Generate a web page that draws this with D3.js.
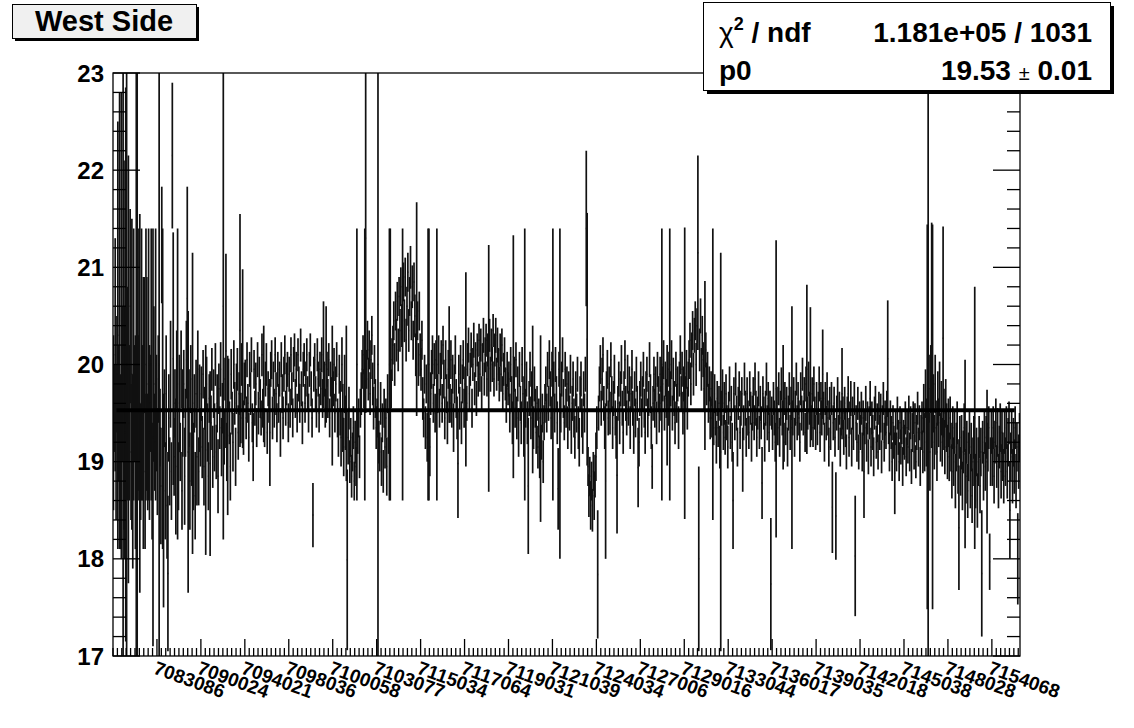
<!DOCTYPE html>
<html><head><meta charset="utf-8">
<script src="https://cdn.jsdelivr.net/npm/d3@7"></script>
<style>body{margin:0;background:#fff}svg{display:block}</style>
</head><body><svg id="c" width="1134" height="728"></svg>
<script>
// bin contents (one per run-number bin)
const binCenters = [
19.40,19.55,20.10,19.20,19.90,20.30,19.50,20.45,19.00,20.40,
19.80,20.00,20.20,19.30,20.00,20.00,19.70,19.95,19.40,20.60,
19.10,19.90,18.90,20.00,19.60,19.20,20.00,20.00,19.50,20.00,
19.60,19.00,20.00,19.40,19.50,20.20,18.90,20.00,19.80,19.10,
20.00,19.30,19.60,20.00,18.80,19.25,19.80,19.20,20.00,19.50,
19.00,19.85,20.00,19.35,18.75,21.23,19.75,18.60,19.55,18.70,
19.70,18.55,17.85,19.45,18.90,19.90,18.80,22.15,20.06,19.05,
19.60,18.95,19.95,19.80,18.85,19.60,19.10,19.95,18.70,19.50,
19.80,18.85,19.40,20.05,20.68,19.10,19.55,18.80,19.85,19.15,
19.60,18.95,19.60,18.65,19.70,19.05,19.95,18.90,19.55,19.25,
19.70,19.15,19.90,18.95,19.55,19.12,19.80,19.30,18.85,19.65,
18.98,19.40,19.95,19.05,19.70,19.25,20.00,19.10,19.60,18.85,
19.75,19.35,19.95,19.15,19.55,20.60,19.25,19.85,20.14,19.10,
19.27,19.80,19.40,18.95,19.90,19.50,19.20,20.00,19.60,19.05,
19.75,19.95,19.30,19.70,20.35,19.45,20.00,20.06,19.35,19.80,
19.85,19.45,20.05,19.60,19.25,19.95,19.70,20.10,19.40,19.15,
19.95,19.55,19.80,19.35,20.05,19.50,19.90,19.65,19.45,20.10,
19.55,19.80,19.35,19.85,20.00,19.30,19.75,19.60,19.30,19.95,
20.05,19.45,19.85,19.55,20.10,19.70,19.40,19.95,19.60,19.85,
19.30,20.05,19.70,19.45,19.90,20.10,19.55,19.80,19.95,19.40,
19.90,19.55,20.10,19.75,19.45,20.00,20.15,19.65,19.95,19.50,
20.10,19.80,19.60,20.20,19.75,19.40,19.95,20.05,19.60,19.85,
20.10,19.70,19.50,19.95,20.15,19.75,19.45,18.45,19.90,20.05,
19.70,19.55,20.10,19.85,19.50,19.95,19.75,20.10,19.65,20.10,
19.85,19.55,20.00,19.95,19.65,20.05,19.45,19.85,19.70,19.68,
19.75,20.00,19.50,19.80,20.05,19.45,19.30,19.90,19.55,19.25,
20.00,19.45,19.15,19.80,19.40,19.60,17.99,19.25,19.55,19.00,
19.25,18.85,19.10,19.35,18.80,19.20,18.95,20.00,19.30,19.45,
19.05,19.55,19.70,19.95,20.10,19.75,20.00,21.30,19.95,20.25,
19.85,20.15,19.70,20.05,20.30,19.80,19.55,20.00,19.65,19.35,
19.45,20.00,19.20,19.10,19.60,19.00,19.40,18.90,19.55,19.15,
19.45,18.95,19.70,19.30,20.00,20.00,19.75,20.05,20.20,20.45,
20.00,20.55,20.25,20.65,20.15,20.70,20.35,20.80,20.40,20.00,
20.85,20.45,20.90,20.25,20.60,20.95,20.35,20.70,21.00,20.45,
20.80,20.25,20.85,20.50,20.10,20.57,20.45,20.00,20.55,20.10,
19.95,20.25,19.65,19.45,19.90,19.35,19.80,19.25,20.00,20.00,
19.15,19.70,19.95,20.10,19.60,20.00,19.50,20.05,20.00,19.70,
20.10,19.55,19.90,20.05,19.60,20.20,19.85,19.45,20.05,19.70,
19.40,19.95,20.00,19.60,20.05,19.55,19.90,19.35,19.80,20.10,
19.65,19.45,18.98,19.90,19.55,20.00,19.40,19.80,20.05,19.55,
19.80,19.95,19.60,20.05,20.20,19.70,19.95,20.15,19.55,20.00,
20.25,19.75,20.05,19.65,20.15,19.85,20.25,19.90,20.20,19.70,
20.05,20.30,19.85,20.10,20.25,19.85,20.15,19.96,20.30,19.90,
20.20,20.00,20.35,19.85,20.15,20.30,19.90,20.20,20.00,19.80,
20.15,19.90,20.20,19.70,19.95,20.10,19.80,19.60,19.95,19.75,
19.85,19.50,20.00,19.70,19.40,20.08,19.90,19.55,20.05,19.45,
19.80,19.30,19.95,19.60,19.40,20.00,19.70,19.30,20.00,19.55,
19.85,19.40,18.75,19.65,19.95,19.45,19.75,19.64,19.35,19.80,
19.55,19.30,19.60,19.15,19.45,19.05,19.34,19.20,19.50,19.00,
19.40,19.60,19.80,19.50,19.95,19.60,20.05,19.75,19.45,19.95,
20.00,19.85,19.50,20.00,19.70,19.40,18.72,19.95,19.70,19.50,
19.85,20.10,19.65,19.40,19.95,19.55,19.80,19.35,19.75,19.50,
19.90,19.30,19.60,19.85,19.45,19.25,19.75,19.50,19.90,19.35,
19.20,19.70,19.85,19.45,19.30,19.75,19.50,19.90,21.40,20.26,
18.95,18.65,18.85,18.55,18.80,18.50,18.90,18.65,18.85,19.05,
19.35,17.84,19.50,19.80,20.00,19.55,19.85,20.10,19.60,19.35,
18.80,19.75,19.95,19.45,19.80,19.50,20.05,19.70,19.35,19.65,
19.90,19.45,19.25,18.86,19.60,19.85,19.40,19.75,20.00,19.55,
19.30,19.75,20.05,19.60,19.45,19.90,19.55,19.80,19.35,19.70,
19.95,19.55,19.30,19.75,19.45,19.90,19.60,18.94,19.20,19.65,
19.85,19.45,19.70,19.95,19.55,19.30,19.75,19.90,19.45,19.65,
20.05,19.70,19.35,18.95,19.60,19.90,19.55,19.80,19.40,19.95,
19.70,19.50,19.90,19.60,20.00,19.80,20.05,19.50,19.85,19.65,
19.58,19.95,19.55,20.00,19.75,20.05,19.50,19.85,19.65,19.40,
19.95,19.60,19.80,19.35,19.85,20.10,19.70,19.95,19.50,19.80,
19.91,19.70,19.95,19.55,19.85,20.05,20.25,19.80,20.15,20.35,
19.90,20.30,20.45,20.00,20.40,21.15,18.00,20.15,20.50,19.95,
20.30,20.05,19.75,19.99,20.15,19.80,19.95,19.60,19.80,19.45,
19.75,19.45,19.90,19.35,19.70,19.45,19.20,19.65,19.35,19.60,
19.15,19.10,19.55,19.75,19.30,19.60,19.25,19.70,19.40,19.15,
19.55,19.80,19.30,19.60,19.20,18.60,19.70,19.40,19.85,19.50,
19.15,19.60,19.75,19.30,19.55,19.70,19.02,19.40,19.85,19.55,
19.25,19.70,19.45,19.30,19.75,19.55,19.20,19.50,19.70,19.40,
19.85,19.55,19.25,19.50,19.75,19.30,19.60,19.40,18.78,19.70,
19.50,19.20,19.55,19.85,19.40,19.65,19.30,19.55,17.74,19.50,
19.30,19.65,19.45,19.20,19.75,19.60,19.35,19.75,19.25,19.55,
19.80,19.45,19.56,19.20,19.65,19.35,19.60,19.15,19.50,19.75,
19.30,19.60,19.35,19.45,19.70,19.25,19.55,19.85,19.40,19.65,
19.45,19.20,19.75,19.50,19.90,19.45,19.70,19.30,19.80,19.95,
19.50,19.85,19.55,19.87,19.40,19.70,19.35,19.80,19.50,19.30,
19.65,19.35,19.55,19.80,19.30,19.65,19.45,19.90,19.55,19.20,
19.65,19.40,19.75,19.45,19.15,19.60,19.30,19.65,18.53,19.40,
19.60,19.25,18.44,19.50,19.70,19.30,19.55,19.15,19.45,19.70,
19.50,19.25,19.60,19.35,19.10,19.50,19.70,19.25,19.45,19.65,
19.15,19.50,19.30,19.65,18.03,19.40,19.20,19.60,19.10,19.45,
19.30,19.55,19.10,19.45,18.90,19.35,19.60,19.20,19.45,19.05,
19.40,19.65,19.15,19.45,19.30,19.05,19.50,19.60,19.20,19.40,
19.10,19.55,19.30,19.50,19.05,19.40,19.65,19.20,19.45,19.30,
19.55,20.06,19.35,19.10,19.45,19.30,19.00,19.40,19.20,18.88,
19.35,19.10,19.50,19.25,19.00,19.40,19.15,19.35,18.95,19.25,
19.20,19.45,19.05,19.35,19.15,19.50,19.10,19.40,18.95,19.30,
19.45,19.10,19.40,19.00,19.30,19.55,19.15,19.40,18.95,19.30,
19.45,19.10,19.55,19.20,19.70,19.30,19.46,20.00,19.75,19.10,
19.85,20.30,19.46,19.60,19.20,19.80,19.35,19.10,19.65,19.40,
19.75,19.25,19.55,19.20,20.27,19.50,19.15,19.60,19.35,19.10,
19.40,19.05,19.45,19.15,18.90,19.35,19.00,19.30,18.80,19.15,
19.40,18.95,18.32,19.25,18.90,19.20,18.75,19.10,19.35,19.08,
18.85,19.20,18.70,19.05,19.30,18.80,19.15,18.65,19.00,19.25,
19.45,18.80,19.10,18.60,19.00,19.25,18.75,19.10,17.85,19.20,
18.85,19.30,18.95,19.25,19.00,19.15,19.35,17.97,19.00,19.30,
19.00,19.35,18.85,19.20,19.40,18.95,19.30,18.80,19.15,19.35,
18.90,19.30,19.05,18.85,19.30,19.00,19.35,18.90,19.20,19.40,
18.50,19.05,19.30,18.85,19.20,18.95,19.35,18.80,19.15,18.00,
19.00,19.25
];
const binErrors = [
0.90,0.45,1.20,0.80,0.60,2.20,0.70,2.35,0.90,2.40,
0.80,3.60,1.90,1.30,2.85,3.60,1.10,2.20,0.80,1.00,
0.70,1.60,1.00,1.40,0.60,1.10,3.60,3.60,0.80,1.40,
1.95,0.60,1.40,0.80,1.40,0.70,0.80,1.40,1.10,0.60,
1.40,0.90,0.50,1.40,0.60,2.15,0.80,0.50,1.40,0.60,
0.55,0.45,3.60,0.40,0.60,0.60,1.65,1.10,0.40,0.50,
0.60,0.55,0.80,0.45,0.35,0.55,0.40,0.75,1.30,0.40,
0.35,0.70,0.40,1.60,0.35,0.50,0.30,0.40,0.40,0.45,
0.35,0.50,0.35,0.40,1.15,1.45,0.40,0.50,0.35,0.40,
1.55,0.45,0.30,0.45,0.35,0.50,0.40,0.35,0.45,0.30,
0.28,0.32,0.25,0.40,0.22,1.08,0.28,0.30,0.35,0.25,
0.95,0.28,0.22,0.32,0.25,0.35,0.22,0.28,0.30,0.38,
0.26,0.22,0.28,0.30,0.26,2.40,0.28,0.22,1.00,0.30,
0.82,0.26,0.22,0.35,0.26,0.22,0.30,0.25,0.22,0.30,
0.26,0.22,0.28,0.22,1.20,0.26,0.22,0.92,0.28,0.22,
0.20,0.22,0.18,0.20,0.25,0.18,0.22,0.18,0.20,0.35,
0.20,0.18,0.22,0.20,0.18,0.22,0.18,0.20,0.18,0.22,
0.20,0.60,0.20,0.18,0.22,0.22,0.18,0.20,0.55,0.18,
0.20,0.22,0.18,0.20,0.18,0.22,0.20,0.18,0.20,0.18,
0.25,0.18,0.20,0.22,0.18,0.20,0.18,0.22,0.18,0.20,
0.18,0.20,0.18,0.17,0.20,0.18,0.17,0.20,0.18,0.20,
0.17,0.18,0.20,0.17,0.18,0.22,0.18,0.17,0.20,0.18,
0.17,0.18,0.20,0.18,0.17,0.18,0.20,0.33,0.18,0.17,
0.18,0.20,0.17,0.18,0.20,0.18,0.17,0.18,0.20,0.55,
0.18,0.20,0.60,0.18,0.20,0.17,0.20,0.18,0.17,0.72,
0.18,0.17,0.20,0.18,0.18,0.20,0.25,0.20,0.28,0.30,
0.28,0.35,0.30,0.30,0.28,0.80,0.93,0.28,0.22,0.22,
0.20,0.22,0.20,0.22,0.20,0.22,0.20,1.40,0.22,0.20,
0.22,0.20,0.22,0.20,0.20,0.20,1.40,1.80,0.20,0.20,
0.22,0.20,0.22,0.20,0.20,0.22,0.22,0.20,0.20,0.22,
0.20,3.60,0.22,0.20,0.22,0.25,0.20,0.22,0.20,0.22,
0.20,0.30,0.20,0.22,1.40,1.40,0.20,0.22,0.20,0.20,
0.22,0.20,0.22,0.20,0.22,0.20,0.22,0.20,0.22,1.40,
0.20,0.22,0.20,0.22,0.20,0.20,0.22,0.20,0.22,0.20,
0.22,0.20,0.20,0.22,0.22,1.10,0.20,0.22,0.20,0.22,
0.22,0.20,0.22,0.20,0.20,0.22,0.20,0.25,1.40,1.40,
0.30,0.22,0.20,0.20,0.20,0.22,0.20,0.20,1.40,0.20,
0.20,0.20,0.22,0.20,0.20,0.20,0.20,0.22,0.20,0.20,
0.22,0.20,0.60,0.20,0.20,0.20,0.20,0.25,0.20,0.20,
0.20,0.22,0.56,0.20,0.22,0.20,0.22,0.20,0.20,0.20,
0.18,1.00,0.18,0.17,0.18,0.18,0.17,0.18,0.20,0.17,
0.18,0.17,0.18,0.18,0.17,0.18,0.17,0.18,0.17,0.18,
0.17,0.18,0.17,0.18,0.17,0.18,0.17,1.27,0.17,0.18,
0.17,0.18,0.17,0.18,0.17,0.18,0.17,0.18,0.17,0.18,
0.17,0.18,0.17,0.18,0.17,0.18,0.17,0.20,0.18,0.17,
0.18,0.20,0.18,0.18,0.22,1.25,0.18,0.20,0.18,0.22,
0.18,0.25,0.18,0.18,0.22,0.18,0.18,0.25,1.40,0.20,
0.18,0.22,0.70,0.18,0.18,0.22,0.18,0.76,0.22,0.18,
0.20,0.22,0.18,0.22,0.20,0.22,0.96,0.18,0.20,0.22,
0.18,0.20,0.18,0.20,0.18,0.18,0.20,0.18,0.22,0.18,
1.40,0.18,0.20,0.18,0.18,0.22,0.42,0.18,1.70,0.20,
0.18,0.18,0.20,0.18,0.18,0.20,0.18,0.22,0.18,0.18,
0.20,0.22,0.18,0.18,0.20,0.22,0.18,0.20,0.18,0.22,
0.25,0.18,0.18,0.20,0.22,0.18,0.20,0.18,0.80,1.30,
0.20,0.22,0.20,0.25,0.20,0.22,0.20,0.25,0.22,0.25,
0.22,0.66,0.18,0.18,0.20,0.18,0.22,0.18,0.18,0.22,
0.80,0.18,0.20,0.18,0.18,0.22,0.18,0.18,0.22,0.18,
0.20,0.18,0.22,0.60,0.18,0.18,0.22,0.18,0.20,0.18,
0.22,0.18,0.20,0.18,0.18,0.20,0.18,0.18,0.22,0.18,
0.20,0.18,0.22,0.18,0.20,0.18,0.18,0.41,0.25,0.18,
0.18,0.20,0.18,0.18,0.20,0.22,0.18,0.18,0.20,0.18,
0.18,0.20,0.22,0.23,0.18,0.18,0.20,0.18,0.22,0.18,
0.18,0.20,0.18,0.18,1.40,0.18,0.20,0.18,0.18,0.20,
0.62,0.18,0.18,1.40,0.18,0.20,0.18,0.22,0.18,0.22,
0.18,0.20,0.18,0.22,0.18,0.20,0.18,0.18,0.22,0.18,
1.50,0.18,0.20,0.22,0.18,0.20,0.18,0.22,0.18,0.20,
0.22,0.18,0.20,0.22,0.18,1.00,0.95,0.22,0.18,0.22,
0.20,0.18,0.22,0.87,0.18,0.22,0.18,0.20,0.18,0.22,
0.18,0.20,1.50,0.18,0.20,0.18,0.22,0.18,0.20,0.18,
0.22,2.05,0.18,0.20,0.18,0.22,0.18,0.20,0.18,0.22,
0.17,0.18,0.17,0.18,0.20,0.50,0.17,0.18,0.17,0.18,
0.20,0.17,0.18,0.17,0.18,0.17,0.33,0.18,0.17,0.18,
0.20,0.17,0.18,0.17,0.18,0.17,0.20,0.18,0.17,0.18,
0.17,0.18,0.20,0.17,0.18,0.17,0.18,0.17,0.37,0.18,
0.17,0.20,0.18,0.17,0.18,0.17,0.20,0.18,0.68,0.17,
0.18,0.17,0.18,0.20,1.53,0.17,0.18,0.17,0.20,0.18,
0.17,0.18,0.64,0.20,0.17,0.18,0.17,0.20,0.18,0.17,
0.18,0.17,1.25,0.18,0.17,0.20,0.18,0.17,0.18,0.17,
0.18,0.20,0.17,0.18,0.17,0.18,0.17,0.20,0.18,0.87,
0.17,0.18,0.17,0.72,0.18,0.17,0.20,0.18,0.17,0.18,
0.17,0.18,0.17,0.18,0.20,0.17,0.18,0.46,0.17,0.20,
0.17,0.18,0.17,0.18,0.20,0.17,0.18,0.17,0.47,0.18,
0.17,0.20,0.45,0.18,0.17,0.18,0.17,0.20,0.18,0.47,
0.17,0.18,0.17,0.20,0.18,0.17,0.18,0.20,0.17,0.18,
0.20,0.17,0.18,0.17,0.62,0.18,0.20,0.17,0.18,0.17,
0.18,0.17,0.20,0.18,0.48,0.17,0.18,0.20,0.17,0.18,
0.17,0.18,0.20,0.17,0.18,0.20,0.17,0.18,0.17,0.20,
0.18,0.17,0.18,0.20,0.17,0.18,0.17,0.20,0.18,0.17,
0.18,0.60,0.17,0.20,0.18,0.17,0.20,0.18,0.17,0.42,
0.18,0.20,0.17,0.18,0.20,0.17,0.18,0.17,0.20,0.18,
0.18,0.17,0.20,0.18,0.17,0.18,0.20,0.17,0.18,0.20,
0.17,0.18,0.20,0.17,0.18,0.17,0.20,0.18,0.20,0.18,
0.17,0.22,0.25,0.30,0.25,0.35,1.98,3.60,0.35,0.40,
0.35,1.16,1.98,0.30,0.28,0.30,0.28,0.30,0.28,0.25,
0.28,0.25,0.28,0.25,1.15,0.25,0.28,0.25,0.25,0.28,
0.25,0.25,0.22,0.25,0.28,0.22,0.25,0.22,0.28,0.25,
0.22,0.28,0.64,0.22,0.25,0.28,0.25,0.22,0.25,0.97,
0.28,0.22,0.28,0.25,0.22,0.28,0.25,0.28,0.25,0.22,
1.35,0.28,0.25,0.28,0.25,0.22,0.28,0.25,0.65,0.22,
0.25,0.22,0.25,0.22,0.74,0.25,0.22,0.29,0.25,0.22,
0.25,0.22,0.28,0.22,0.25,0.22,0.25,0.28,0.22,0.25,
0.28,0.22,0.25,0.28,0.22,0.25,0.22,0.28,0.25,0.22,
0.50,0.25,0.22,0.28,0.25,0.28,0.22,0.28,0.25,0.47,
0.28,0.25
];
// alphanumeric bin labels shown every 50 bins
const tickLabels = ["7083086","7090024","7094021","7098036","7100058","7103077","7115034",
"7117064","7119031","7121039","7124034","7127006","7129016","7133044","7136017","7139035",
"7142018","7145038","7148028","7154068"];
const labelEvery = 50;
const minorEvery = 5;
const yDomain = [17, 23];
const fitP0 = 19.53;
const fitRange = [4, 1026];
const titleText = "West Side";
const chi2Value = "1.181e+05 / 1031";
const p0Value = "19.53", p0Err = "0.01";

const FONT = "'Liberation Sans', Arial, Helvetica, sans-serif";
const L = 113, R = 1020, T = 73, B = 656;
const n = binCenters.length;
const x = d3.scaleLinear().domain([0, n]).range([L, R]);
const y = d3.scaleLinear().domain(yDomain).range([B, T]);
const svg = d3.select("#c");

svg.append("defs").append("clipPath").attr("id", "clip")
  .append("rect").attr("x", L).attr("y", T).attr("width", R - L).attr("height", B - T);

const bins = binCenters.map((c, i) => ({ i, c, e: binErrors[i] }));
const g = svg.append("g").attr("clip-path", "url(#clip)");
// vertical error bars
g.append("g").selectAll("line").data(bins).join("line")
  .attr("x1", d => x(d.i + 0.5)).attr("x2", d => x(d.i + 0.5))
  .attr("y1", d => y(d.c - d.e)).attr("y2", d => y(d.c + d.e))
  .attr("stroke", "#111").attr("stroke-width", 1.7);
// horizontal bin-width bars at the bin content
g.append("g").selectAll("line").data(bins).join("line")
  .attr("x1", d => x(d.i)).attr("x2", d => x(d.i + 1))
  .attr("y1", d => y(d.c)).attr("y2", d => y(d.c))
  .attr("stroke", "#111").attr("stroke-width", 1.5);

// fit line
svg.append("line").attr("x1", x(fitRange[0])).attr("x2", x(fitRange[1]))
  .attr("y1", y(fitP0)).attr("y2", y(fitP0)).attr("stroke", "#000").attr("stroke-width", 4);

// frame
svg.append("rect").attr("x", L).attr("y", T).attr("width", R - L).attr("height", B - T)
  .attr("fill", "none").attr("stroke", "#000").attr("stroke-width", 1.3);

// y ticks both sides
const yMinor = d3.range(0, 31).map(k => yDomain[0] + k * 0.2);
const ax = svg.append("g").attr("stroke", "#000").attr("stroke-width", 1.3);
yMinor.forEach(v => {
  const major = Math.abs(v - Math.round(v)) < 1e-6;
  const len = major ? 27 : 13;
  ax.append("line").attr("x1", L).attr("x2", L + len).attr("y1", y(v)).attr("y2", y(v));
  ax.append("line").attr("x1", R - len).attr("x2", R).attr("y1", y(v)).attr("y2", y(v));
});
d3.range(yDomain[0], yDomain[1] + 1).forEach(v => {
  svg.append("text").attr("x", 104).attr("y", y(v) + 8.5).attr("text-anchor", "end")
    .attr("font-family", FONT).attr("font-weight", "bold").attr("font-size", 24).text(v);
});

// x ticks
for (let k = 0; k <= n; k += minorEvery) {
  const major = k % labelEvery === 0 && k > 0;
  ax.append("line").attr("x1", x(k)).attr("x2", x(k)).attr("y1", B).attr("y2", B - (major ? 17 : 8));
}
tickLabels.forEach((lab, j) => {
  const k = (j + 1) * labelEvery;
  svg.append("text").attr("transform", `translate(${x(k) + 1},${B + 2}) rotate(20)`)
    .attr("dy", "0.85em").attr("font-family", FONT).attr("font-weight", "bold")
    .attr("font-size", 19).text(lab);
});

// title box
svg.append("rect").attr("x", 15).attr("y", 7).attr("width", 184).attr("height", 34).attr("fill", "#000");
svg.append("rect").attr("x", 12).attr("y", 4).attr("width", 184).attr("height", 34)
  .attr("fill", "#f0f0f0").attr("stroke", "#000").attr("stroke-width", 1).attr("shape-rendering", "crispEdges");
svg.append("text").attr("x", 104).attr("y", 31).attr("text-anchor", "middle")
  .attr("font-family", FONT).attr("font-weight", "bold").attr("font-size", 29).text(titleText);

// stats box
svg.append("rect").attr("x", 707).attr("y", 6).attr("width", 407).attr("height", 88).attr("fill", "#000");
svg.append("rect").attr("x", 703).attr("y", 2).attr("width", 407).attr("height", 88)
  .attr("fill", "#fff").attr("stroke", "#000").attr("stroke-width", 1).attr("shape-rendering", "crispEdges");
const r1 = svg.append("text").attr("x", 719).attr("y", 42).attr("font-family", FONT)
  .attr("font-weight", "bold").attr("font-size", 28);
r1.append("tspan").attr("font-weight", "normal").text("χ");
r1.append("tspan").attr("font-size", 18).attr("dy", -12).text("2");
r1.append("tspan").attr("dy", 12).text(" / ndf");
svg.append("text").attr("x", 1092).attr("y", 42).attr("text-anchor", "end").attr("font-family", FONT)
  .attr("font-weight", "bold").attr("font-size", 28).text(chi2Value);
svg.append("text").attr("x", 719).attr("y", 80).attr("font-family", FONT)
  .attr("font-weight", "bold").attr("font-size", 28).text("p0");
const r2 = svg.append("text").attr("x", 1092).attr("y", 80).attr("text-anchor", "end").attr("font-family", FONT)
  .attr("font-weight", "bold").attr("font-size", 28);
r2.append("tspan").text(p0Value + " ");
r2.append("tspan").attr("font-weight", "normal").attr("font-size", 20).text("±");
r2.append("tspan").text(" " + p0Err);
</script></body></html>
